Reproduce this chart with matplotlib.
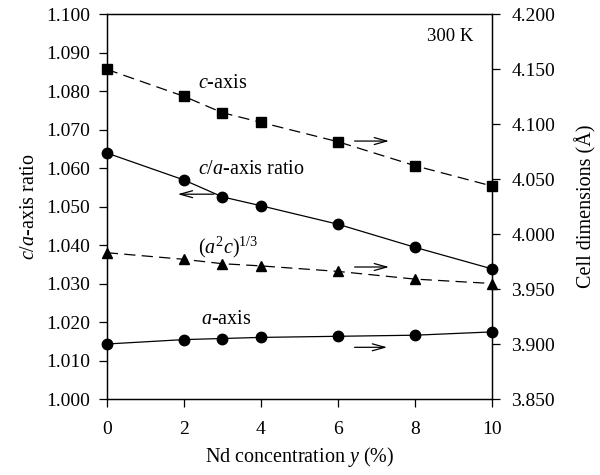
import matplotlib.pyplot as plt
import numpy as np

plt.rcParams['font.family'] = 'Liberation Serif'
plt.rcParams['mathtext.fontset'] = 'custom'
plt.rcParams['mathtext.rm'] = 'Liberation Serif'
plt.rcParams['mathtext.it'] = 'Liberation Serif:italic'

# Nd concentration y (%)
nd = [0, 2, 3, 4, 6, 8, 10]
# c/a ratio (left axis)
ca_ratio = [1.0639, 1.0569, 1.0525, 1.0502, 1.0454, 1.0394, 1.0338]
# cell dimensions in angstrom (right axis)
c_axis = [4.1497, 4.1252, 4.1103, 4.1015, 4.0839, 4.0621, 4.0436]
vol_root = [3.983, 3.977, 3.973, 3.971, 3.966, 3.959, 3.955]
a_axis = [3.900, 3.904, 3.905, 3.906, 3.907, 3.908, 3.911]

fig = plt.figure(figsize=(6, 4.75), dpi=100)
ax = fig.add_axes([0.178, 0.16, 0.642, 0.8105])
ax2 = ax.twinx()

ms = 7.5
ax.plot(nd, ca_ratio, 'k-', lw=0.9, marker='o', ms=ms, clip_on=False, zorder=5)
dash = (0, (9, 5))
ax2.plot(nd, c_axis, color='k', ls=dash, lw=0.9, marker='s', ms=ms, clip_on=False)
ax2.plot(nd, vol_root, color='k', ls=dash, lw=0.9, marker='^', ms=ms, clip_on=False)
ax2.plot(nd, a_axis, 'k-', lw=0.9, marker='o', ms=ms, clip_on=False)

ax.set_xlim(0, 10)
ax.set_ylim(1.000, 1.100)
ax2.set_ylim(3.850, 4.200)
ax.set_xticks(np.arange(0, 11, 2))
ax.set_yticks(np.arange(1.000, 1.1001, 0.010))
ax.set_yticklabels([f'{v:.3f}' for v in np.arange(1.000, 1.1001, 0.010)])
ax2.set_yticks(np.arange(3.850, 4.2001, 0.050))
ax2.set_yticklabels([f'{v:.3f}' for v in np.arange(3.850, 4.2001, 0.050)])

for a in (ax, ax2):
    a.tick_params(direction='out', length=6, width=0.9, labelsize=14)
    for s in a.spines.values():
        s.set_linewidth(0.9)
ax.tick_params(axis='y', pad=6)
ax.tick_params(axis='x', pad=10)
ax2.tick_params(axis='y', pad=8)

ax.set_xlabel('Nd concentration $y$ (%)', fontsize=14.5, labelpad=5)
ax.set_ylabel('$c/a$-axis ratio', fontsize=14.5, labelpad=5)
ax2.set_ylabel('Cell dimensions (Å)', fontsize=14.5, labelpad=14)

fs = 14.5
ax2.text(2.36, 4.137, '$c$-axis', fontsize=fs, va='center')
ax.text(2.38, 1.0595, '$c/a$-axis ratio', fontsize=fs, va='center')
ax.text(2.38, 1.0395, r'$(a^{2}c)^{1/3}$', fontsize=fs, va='center')
ax2.text(2.45, 3.922, '$a$-axis', fontsize=fs, va='center')
ax.text(0.951, 0.942, '300 K', transform=ax.transAxes, fontsize=13.5,
        ha='right', va='center')

arrow = dict(arrowstyle='->,head_length=0.9,head_width=0.25', color='k', lw=0.9)
ax.annotate('', xy=(1.77, 1.0532), xytext=(2.85, 1.0532), arrowprops=arrow)
ax2.annotate('', xy=(7.40, 4.0845), xytext=(6.36, 4.0845), arrowprops=arrow)
ax2.annotate('', xy=(7.40, 3.970), xytext=(6.36, 3.970), arrowprops=arrow)
ax2.annotate('', xy=(7.35, 3.897), xytext=(6.36, 3.897), arrowprops=arrow)

fig.savefig('out.png', dpi=100)
